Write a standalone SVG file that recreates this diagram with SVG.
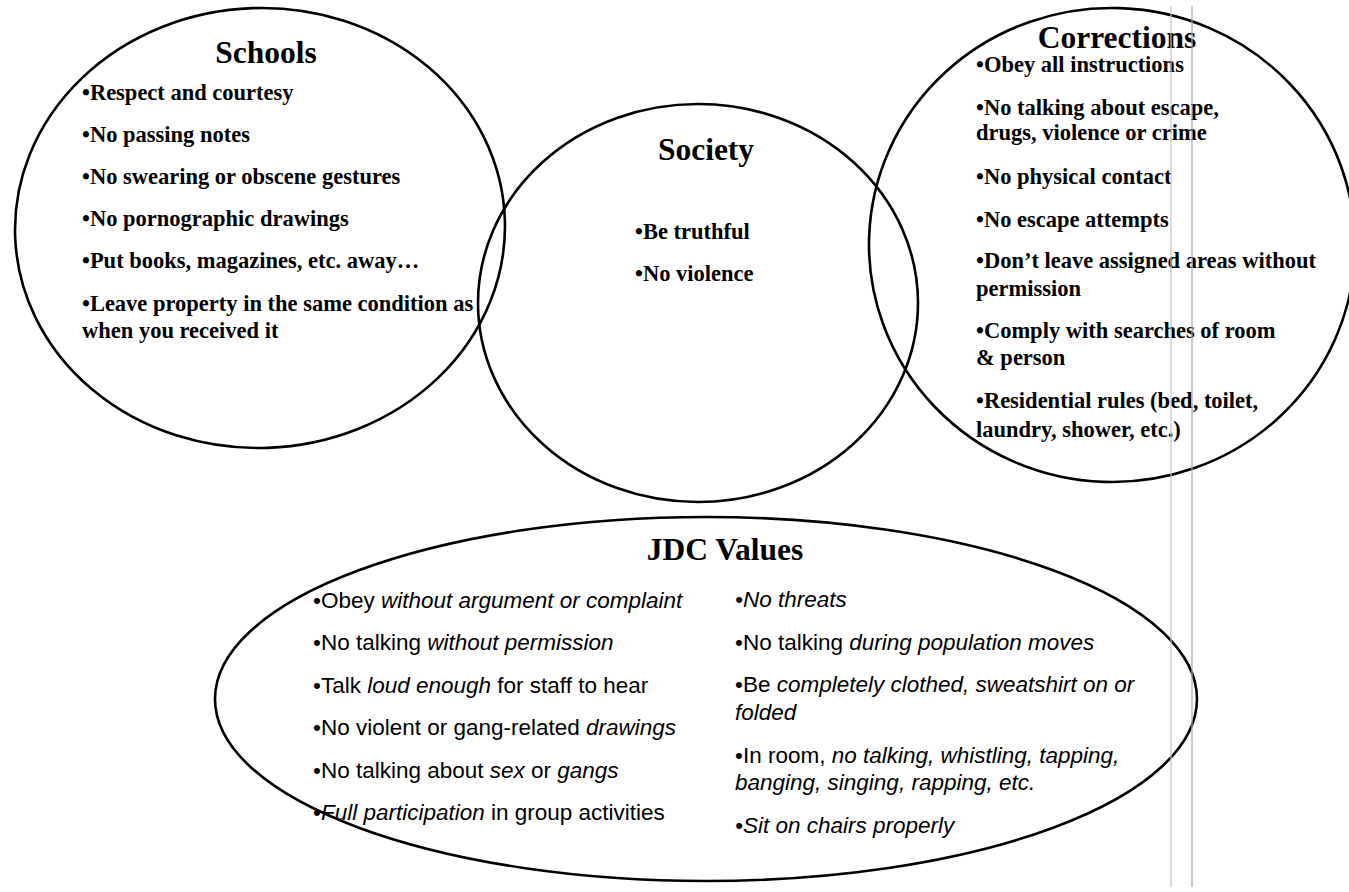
<svg xmlns="http://www.w3.org/2000/svg" width="1349" height="892" viewBox="0 0 1349 892">
<style>
.shape{fill:none;stroke:#000;stroke-width:2.6}
.title{font-family:"Liberation Serif","Times New Roman",serif;font-weight:bold;font-size:31.5px;fill:#000;text-anchor:middle}
.item{font-family:"Liberation Serif","Times New Roman",serif;font-weight:bold;font-size:22.5px;fill:#000}
.jdc{font-family:"Liberation Sans",Arial,sans-serif;font-size:22.5px;fill:#000}
.it{font-style:italic}
.scan{stroke-width:1.2;fill:none}
</style>
<rect width="1349" height="892" fill="#fff"/>
<g id="schools">
<ellipse class="shape" cx="260" cy="228" rx="245" ry="220" transform="rotate(-2 260 228)"/>
<text class="title" x="266" y="63">Schools</text>
<text class="item" x="82" y="100">•Respect and courtesy</text>
<text class="item" x="82" y="142">•No passing notes</text>
<text class="item" x="82" y="184">•No swearing or obscene gestures</text>
<text class="item" x="82" y="226">•No pornographic drawings</text>
<text class="item" x="82" y="268">•Put books, magazines, etc. away…</text>
<text class="item" x="82" y="311">•Leave property in the same condition as</text>
<text class="item" x="82" y="338">when you received it</text>
</g>
<g id="society">
<ellipse class="shape" cx="698" cy="303" rx="220" ry="199"/>
<text class="title" x="706" y="160">Society</text>
<text class="item" x="635" y="239">•Be truthful</text>
<text class="item" x="635" y="281">•No violence</text>
</g>
<g id="corrections">
<ellipse class="shape" cx="1112" cy="245" rx="243" ry="237" transform="rotate(2 1112 245)"/>
<text class="title" x="1117" y="48">Corrections</text>
<text class="item" x="976" y="72">•Obey all instructions</text>
<text class="item" x="976" y="115">•No talking about escape,</text>
<text class="item" x="976" y="140">drugs, violence or crime</text>
<text class="item" x="976" y="184">•No physical contact</text>
<text class="item" x="976" y="227">•No escape attempts</text>
<text class="item" x="976" y="268">•Don’t leave assigned areas without</text>
<text class="item" x="976" y="296">permission</text>
<text class="item" x="976" y="338">•Comply with searches of room</text>
<text class="item" x="976" y="365">&amp; person</text>
<text class="item" x="976" y="408">•Residential rules (bed, toilet,</text>
<text class="item" x="976" y="437">laundry, shower, etc.)</text>
</g>
<g id="jdc-values">
<ellipse class="shape" cx="706" cy="699" rx="491" ry="182"/>
<text class="title" x="725" y="560">JDC Values</text>
<text class="jdc" x="313" y="608">•Obey <tspan class="it">without argument or complaint</tspan></text>
<text class="jdc" x="313" y="650">•No talking <tspan class="it">without permission</tspan></text>
<text class="jdc" x="313" y="693">•Talk <tspan class="it">loud enough</tspan> for staff to hear</text>
<text class="jdc" x="313" y="735">•No violent or gang-related <tspan class="it">drawings</tspan></text>
<text class="jdc" x="313" y="778">•No talking about <tspan class="it">sex</tspan> or <tspan class="it">gangs</tspan></text>
<text class="jdc" x="313" y="820">•<tspan class="it">Full participation</tspan> in group activities</text>
<text class="jdc it" x="735" y="607">•No threats</text>
<text class="jdc" x="735" y="650">•No talking <tspan class="it">during population moves</tspan></text>
<text class="jdc" x="735" y="692">•Be <tspan class="it">completely clothed, sweatshirt on or</tspan></text>
<text class="jdc it" x="735" y="720">folded</text>
<text class="jdc" x="735" y="763">•In room, <tspan class="it">no talking, whistling, tapping,</tspan></text>
<text class="jdc it" x="735" y="790">banging, singing, rapping, etc.</text>
<text class="jdc it" x="735" y="833">•Sit on chairs properly</text>
</g>
<g id="connectors"></g>
<g id="scan-lines">
<line class="scan" x1="1171" y1="6" x2="1171" y2="887" stroke="#c4c4c4"/>
<line class="scan" x1="1192" y1="6" x2="1192" y2="887" stroke="#a8a8a8" stroke-width="1.6"/>
</g>
</svg>
